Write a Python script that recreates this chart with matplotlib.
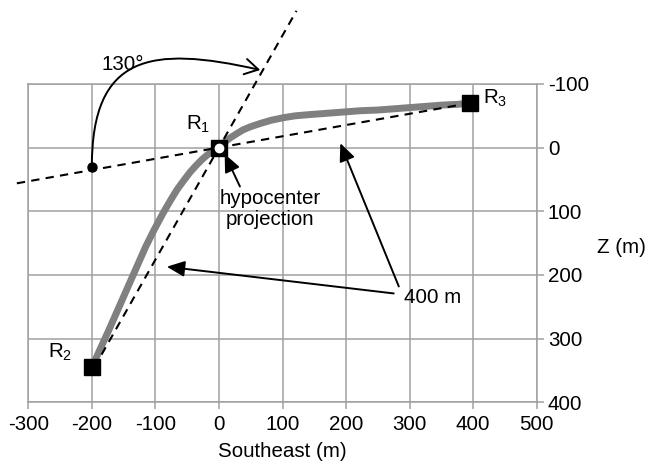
import matplotlib
matplotlib.use("Agg")
import matplotlib.pyplot as plt
from matplotlib.patches import FancyArrowPatch
from matplotlib.path import Path

plt.rcParams['font.family'] = ['Liberation Sans', 'DejaVu Sans']
plt.rcParams['mathtext.fontset'] = 'custom'
plt.rcParams['mathtext.rm'] = 'Liberation Sans'
plt.rcParams['mathtext.it'] = 'Liberation Sans:italic'

FS = 14.8

# ---- data ----
x_ticks = [-300, -200, -100, 0, 100, 200, 300, 400, 500]
z_ticks = [-100, 0, 100, 200, 300, 400]

# gray curve (Southeast, Z)
curve_x = [-200, -173, -150, -127, -115, -102, -88, -77, -66, -55, -45,
           -36, -27, -19, -11, -5, 0,
           8, 17, 28, 38, 50, 65, 82, 101, 120, 143, 170, 196, 222, 248, 275, 301, 327, 353, 375, 395]
curve_z = [345, 286, 234, 182, 155, 129, 103, 84, 66, 51, 38,
           28, 19, 12, 6, 2, 0,
           -8, -15, -22, -28, -33, -38, -43, -47, -50, -52, -54, -56, -58, -59, -61, -63, -65, -67, -68, -70]

# receivers
R1 = (0, 0)
R2 = (-200, 345)
R3 = (395, -70)

# dashed straight lines
line1_x = [-318, 395]
line1_z = [56, -70]
line2_x = [-196, 122]
line2_z = [345, -215]

# angle arc (cubic Bezier control points) and its start dot
arc_x = [-200, -200, -108, 65]
arc_z = [30, -146, -161, -122]
angle_text = "130°"

# annotation arrows (tail -> head)
hypo_tail = (33, 61)
hypo_head = (9, 10)
dist_tail_a = (283, 218)
dist_head_a = (191, -7)
dist_tail_b = (275, 229)
dist_head_b = (-82, 187)

fig = plt.figure(figsize=(6.49, 4.66), dpi=100)
ax = fig.add_axes([28.3/649, 63.7/466, 508.4/649, 318.3/466])

ax.set_xlim(-300, 500)
ax.set_ylim(400, -100)
ax.set_xticks(x_ticks)
ax.set_yticks(z_ticks)
ax.set_xticklabels([str(v) for v in x_ticks])
ax.set_yticklabels([str(v) for v in z_ticks])
ax.yaxis.tick_right()
ax.grid(True, color='#a0a0a0', lw=1.1, zorder=0)
ax.set_axisbelow(True)
for s in ax.spines.values():
    s.set_color('#a0a0a0')
    s.set_linewidth(1.1)
ax.tick_params(axis='both', colors='#a0a0a0', labelcolor='black', labelsize=FS,
               length=5, width=1.1)
ax.tick_params(axis='x', pad=4)
ax.tick_params(axis='y', pad=3)

ax.set_xlabel("Southeast (m)", fontsize=FS, labelpad=6)
ax.yaxis.set_label_position('right')
ax.set_ylabel("Z (m)", fontsize=FS, rotation=0, va='center', ha='center')
ax.yaxis.set_label_coords(1.166, 0.485)

# gray curve
ax.plot(curve_x, curve_z, color='#808080', lw=5, solid_capstyle='butt',
        solid_joinstyle='round', zorder=2)

# dashed lines
ax.plot(line1_x, line1_z, color='black', lw=1.5, ls=(0, (4, 3)), zorder=3, clip_on=False)
ax.plot(line2_x, line2_z, color='black', lw=1.5, ls=(0, (4, 3)), zorder=3, clip_on=False)

# markers
ax.plot([R2[0], R3[0]], [R2[1], R3[1]], 's', color='black', ms=11, zorder=5)
ax.plot([R1[0]], [R1[1]], 's', color='black', ms=11, zorder=5)
ax.plot([R1[0]], [R1[1]], 'o', color='white', ms=6, zorder=6)
ax.plot([arc_x[0]], [arc_z[0]], 'o', color='black', ms=6.5, zorder=5)

# angle arc
arc_path = Path(list(zip(arc_x, arc_z)), [Path.MOVETO, Path.CURVE4, Path.CURVE4, Path.CURVE4])
arc = FancyArrowPatch(path=arc_path, arrowstyle='->,head_length=0.6,head_width=0.35',
                      mutation_scale=16, color='black', lw=1.4, clip_on=False, zorder=4)
ax.add_patch(arc)
ax.text(-151, -130, angle_text, fontsize=FS, ha='center', va='center')

# labels
ax.text(-33, -36, "R$_1$", fontsize=FS, ha='center', va='center')
ax.text(-250, 322, "R$_2$", fontsize=FS, ha='center', va='center')
ax.text(434, -78, "R$_3$", fontsize=FS, ha='center', va='center')

ax.text(80, 96, "hypocenter\nprojection", fontsize=FS, ha='center', va='center',
        linespacing=1.15, zorder=4)
ax.text(337, 235, "400 m", fontsize=FS, ha='center', va='center', zorder=4)

arrow_kw = dict(arrowstyle='-|>,head_length=0.9,head_width=0.4', mutation_scale=12,
                color='black', lw=1.4, zorder=4, shrinkA=0, shrinkB=0)
for tail, head in [(hypo_tail, hypo_head), (dist_tail_a, dist_head_a), (dist_tail_b, dist_head_b)]:
    ax.add_patch(FancyArrowPatch(tail, head, **arrow_kw))

fig.savefig("out.png", dpi=100)
